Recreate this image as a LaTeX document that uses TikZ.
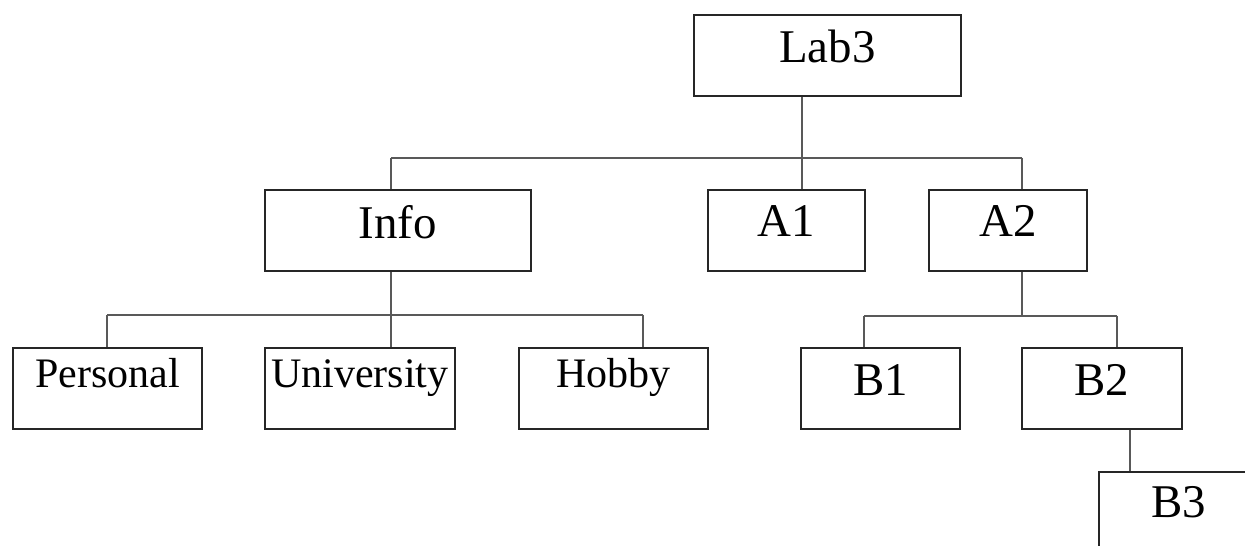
\documentclass[tikz,border=0pt]{standalone}
\usepackage{fontspec}
\setmainfont{Liberation Serif}
\begin{document}
\begin{tikzpicture}[x=0.02cm,y=-0.02cm,
  boxbase/.style={draw=black!85, line width=1.1pt, rectangle, inner sep=0pt, anchor=north west, align=center},
  big/.style={boxbase, font=\fontsize{26.7}{30}\selectfont},
  small/.style={boxbase, font=\fontsize{23.9}{27}\selectfont},
  conn/.style={draw=black!65, line width=1.1pt}]
\useasboundingbox (0,0) rectangle (1245,546);
% boxes
\node[big, minimum width=5.34cm, text height=0.96cm, text depth=0.66cm] (lab3) at (693,14) {Lab3};
\node[big, minimum width=5.32cm, text height=0.98cm, text depth=0.64cm] (info) at (264,189) {Info};
\node[big, minimum width=3.14cm, text height=0.94cm, text depth=0.68cm] (a1) at (707,189) {A1};
\node[big, minimum width=3.16cm, text height=0.94cm, text depth=0.68cm] (a2) at (928,189) {A2};
\node[small, minimum width=3.78cm, text height=0.80cm, text depth=0.82cm] (personal) at (12,347) {Personal};
\node[small, minimum width=3.80cm, text height=0.80cm, text depth=0.82cm] (university) at (264,347) {University};
\node[small, minimum width=3.78cm, text height=0.80cm, text depth=0.82cm] (hobby) at (518,347) {Hobby};
\node[big, minimum width=3.18cm, text height=0.96cm, text depth=0.66cm] (b1) at (800,347) {B1};
\node[big, minimum width=3.20cm, text height=0.96cm, text depth=0.66cm] (b2) at (1021,347) {B2};
\node[big, minimum width=3.20cm, text height=0.92cm, text depth=1.2cm] (b3) at (1098,471) {B3};
% bus coordinates
\coordinate (busTopL) at (391,158);
\coordinate (busTopM) at (802,158);
\coordinate (busTopR) at (1022,158);
\coordinate (busInfoL) at (107,315);
\coordinate (busInfoM) at (391,315);
\coordinate (busInfoR) at (643,315);
\coordinate (busA2L) at (864,316);
\coordinate (busA2M) at (1022,316);
\coordinate (busA2R) at (1117,316);
\coordinate (b2out) at (1130,428);
% connectors
\draw[conn] (lab3.south -| busTopM) -- (busTopM);
\draw[conn] (busTopL) -- (busTopR);
\draw[conn] (busTopL) -- (info.north -| busTopL);
\draw[conn] (busTopM) -- (a1.north -| busTopM);
\draw[conn] (busTopR) -- (a2.north -| busTopR);
\draw[conn] (info.south -| busInfoM) -- (busInfoM);
\draw[conn] (busInfoL) -- (busInfoR);
\draw[conn] (busInfoL) -- (personal.north -| busInfoL);
\draw[conn] (busInfoM) -- (university.north -| busInfoM);
\draw[conn] (busInfoR) -- (hobby.north -| busInfoR);
\draw[conn] (a2.south -| busA2M) -- (busA2M);
\draw[conn] (busA2L) -- (busA2R);
\draw[conn] (busA2L) -- (b1.north -| busA2L);
\draw[conn] (busA2R) -- (b2.north -| busA2R);
\draw[conn] (b2.south -| b2out) -- (b3.north -| b2out);
\end{tikzpicture}
\end{document}
